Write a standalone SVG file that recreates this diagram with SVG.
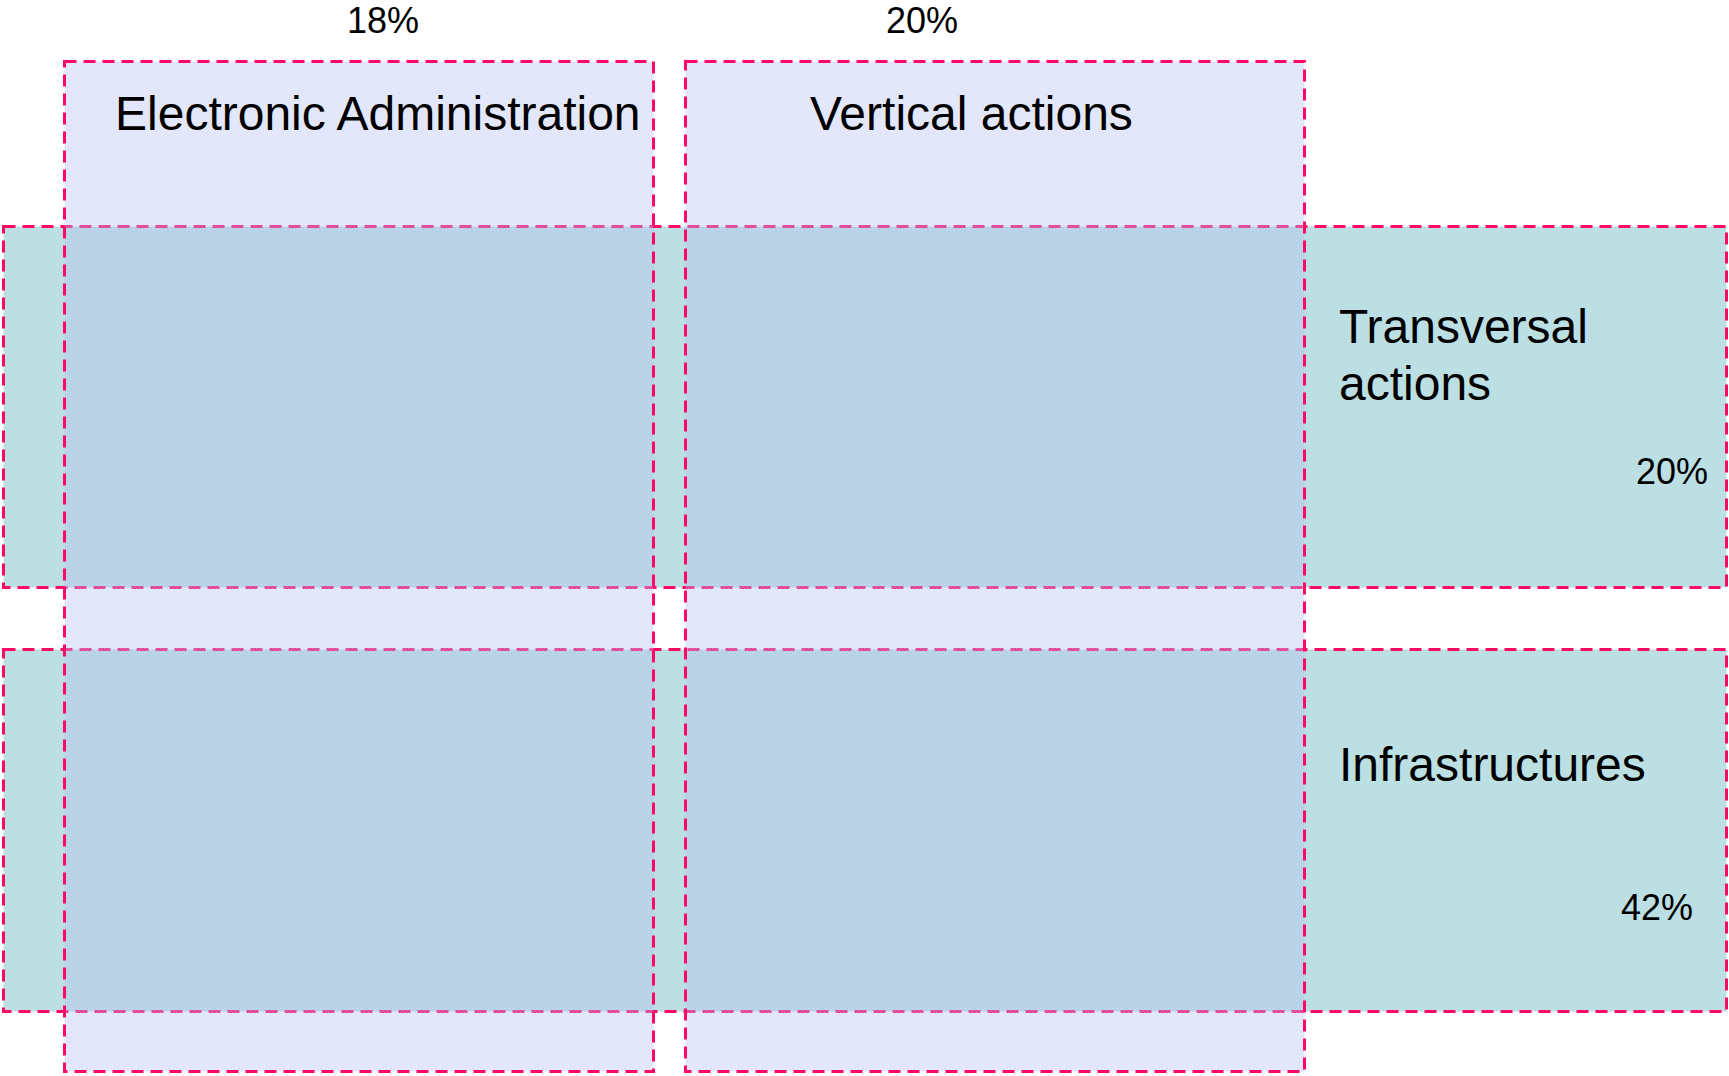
<svg xmlns="http://www.w3.org/2000/svg" width="1729" height="1076" viewBox="0 0 1729 1076">
<style>
.band{fill:#bbdfe2;stroke:#ff0866;stroke-width:3;stroke-dasharray:12 7}
.col{fill:url(#dots);stroke:#ff0866;stroke-width:3;stroke-dasharray:12 7}
.t{font-family:"Liberation Sans",Arial,sans-serif;fill:#000}
.big{font-size:48px}
.pct{font-size:36px}
</style>
<defs>
<pattern id="dots" width="4" height="4" patternUnits="userSpaceOnUse">
<rect width="4" height="4" fill="#aebaf2" fill-opacity="0.36"/>
<rect x="0" y="0" width="1" height="1" fill="#ffffff" fill-opacity="0.25"/>
<rect x="2" y="2" width="1" height="1" fill="#ffffff" fill-opacity="0.25"/>
</pattern>
</defs>
<rect width="1729" height="1076" fill="#ffffff"/>
<g id="transversal">
<rect class="band" x="3.5" y="226.5" width="1723" height="361"/>
</g>
<g id="infrastructures">
<rect class="band" x="3.5" y="649.5" width="1723" height="362"/>
</g>
<g id="electronic-administration">
<rect class="col" x="64.5" y="61.5" width="589" height="1010"/>
</g>
<g id="vertical-actions">
<rect class="col" x="685.5" y="61.5" width="619" height="1010"/>
</g>
<g id="connectors"></g>
<g id="labels">
<text class="t pct" x="383" y="33" text-anchor="middle">18%</text>
<text class="t pct" x="922" y="33" text-anchor="middle">20%</text>
<text class="t big" x="115" y="130">Electronic Administration</text>
<text class="t big" x="810" y="130">Vertical actions</text>
<text class="t big" x="1339" y="343">Transversal</text>
<text class="t big" x="1339" y="400">actions</text>
<text class="t pct" x="1708" y="484" text-anchor="end">20%</text>
<text class="t big" x="1339" y="781">Infrastructures</text>
<text class="t pct" x="1693" y="920" text-anchor="end">42%</text>
</g>
</svg>
